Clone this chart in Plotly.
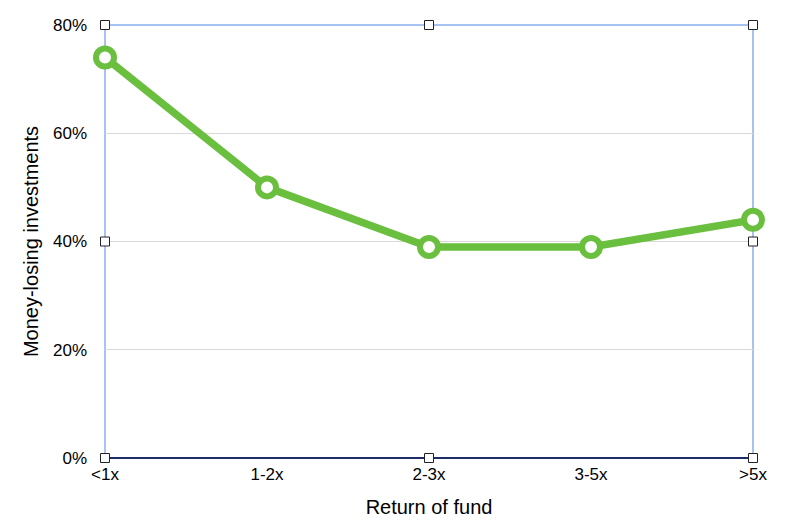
import plotly.graph_objects as go

# data
categories = ["<1x", "1-2x", "2-3x", "3-5x", ">5x"]
losing_share = [74, 50, 39, 39, 44]
y_ticks = [0, 20, 40, 60, 80]
y_tick_labels = ["0%", "20%", "40%", "60%", "80%"]

GREEN = "#6abf3e"
BLUE = "#4f84e6"
FONT = "Liberation Sans"

fig = go.Figure()
fig.add_trace(go.Scatter(
    x=categories,
    y=losing_share,
    mode="lines+markers",
    line=dict(color=GREEN, width=7.5),
    marker=dict(size=18, color="white", line=dict(color=GREEN, width=6)),
    cliponaxis=False,
    hoverinfo="skip",
))

# selection box around the plot area, with little square handles
fig.add_shape(type="rect", xref="paper", yref="paper", x0=0, y0=0, x1=1, y1=1,
              line=dict(color=BLUE, width=1), layer="below")
handle = 4.5
for hx in (0, 0.5, 1):
    for hy in (0, 0.5, 1):
        if hx == 0.5 and hy == 0.5:
            continue
        fig.add_shape(type="rect", xref="paper", yref="paper", xsizemode="pixel", ysizemode="pixel",
                      xanchor=hx, yanchor=hy, x0=-handle, x1=handle, y0=-handle, y1=handle,
                      line=dict(color="#222222", width=1), fillcolor="white", layer="above")

# the page body adds 8px around the figure, so the margins are shifted to match
fig.update_layout(
    width=800, height=524,
    margin=dict(l=97, r=55, t=17, b=74),
    plot_bgcolor="white", paper_bgcolor="white",
    showlegend=False,
    font=dict(family=FONT, size=17, color="#000000"),
    xaxis=dict(
        type="category", range=[0, len(categories) - 1],
        showgrid=False, zeroline=False, showline=False, automargin=False,
        ticks="", ticklabelstandoff=4,
        title=dict(text="Return of fund", standoff=16),
    ),
    yaxis=dict(
        range=[0, 80], tickvals=y_ticks, ticktext=y_tick_labels,
        showgrid=True, gridcolor="#d9d9d9", gridwidth=1,
        zeroline=True, zerolinecolor="#1f2d66", zerolinewidth=2,
        showline=False, automargin=False, ticks="", ticklabelstandoff=17,
        title=dict(text="Money-losing investments", standoff=8),
    ),
)

fig.write_html("out.html")
